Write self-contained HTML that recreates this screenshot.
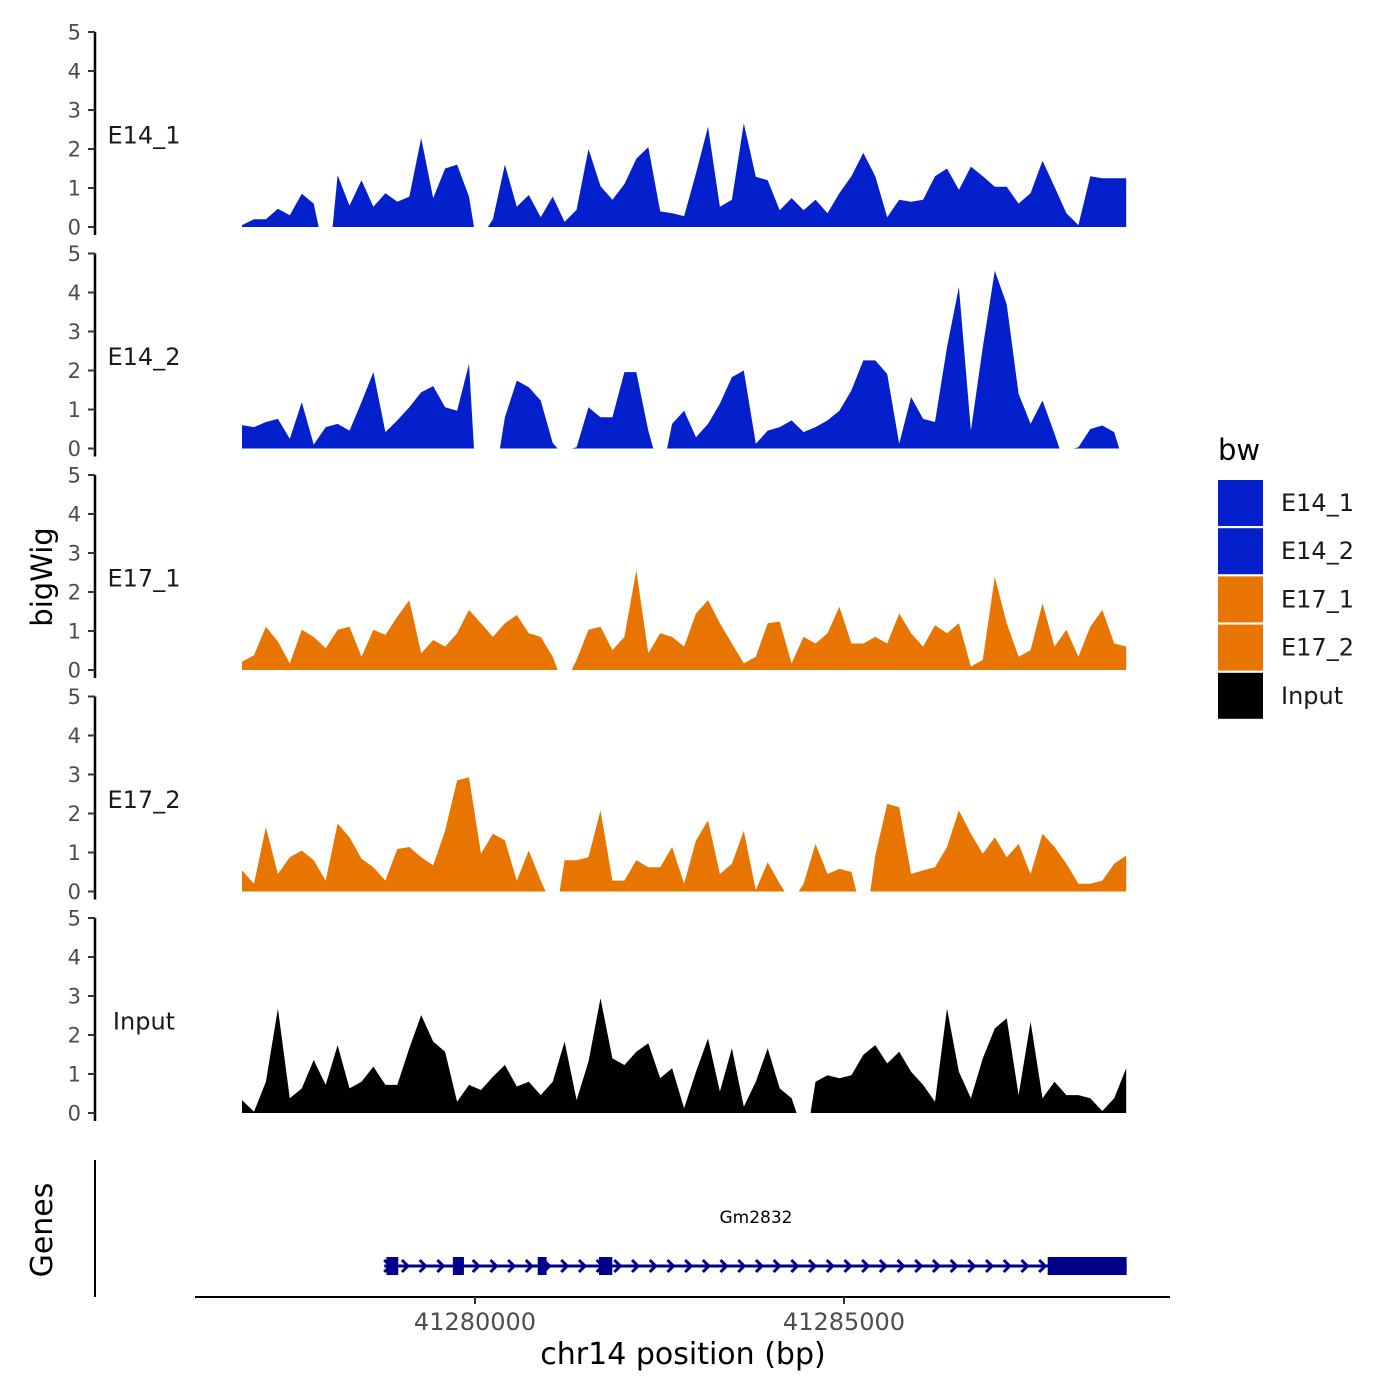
<!DOCTYPE html>
<html><head><meta charset="utf-8"><style>
body{margin:0;background:#fff;}
svg{display:block;font-family:"DejaVu Sans","Liberation Sans",sans-serif;}
</style></head><body>
<svg id="chart" width="1400" height="1400" viewBox="0 0 1400 1400">
<g id="tracks"></g>
<g id="gene-panel">
  <line x1="95" y1="1160" x2="95" y2="1297" stroke="#000" stroke-width="2"/>
  <line x1="195" y1="1297" x2="1170" y2="1297" stroke="#000" stroke-width="2"/>
  <text x="52" y="1230" transform="rotate(-90 52 1230)" font-size="30" text-anchor="middle">Genes</text>
  <g id="gene"></g>
  <text x="756" y="1223" font-size="17" text-anchor="middle">Gm2832</text>
</g>
<g id="xaxis"></g>
<text x="683" y="1364" font-size="30" text-anchor="middle">chr14 position (bp)</text>
<text x="52" y="577" transform="rotate(-90 52 577)" font-size="29" text-anchor="middle">bigWig</text>
<g id="legend"></g>
</svg>
<script>
const binStart = 41276843;
const binSize = 161.9;
const seriesNames = ["E14_1","E14_2","E17_1","E17_2","Input"];
const seriesColors = ["#0420CD","#0420CD","#E87500","#E87500","#000000"];
const yTicks = [0,1,2,3,4,5];
const xTicks = [41280000,41285000];
const e14_1 = [0.05,0.2,0.2,0.47,0.3,0.85,0.6,null,1.33,0.55,1.2,0.52,0.87,0.65,0.78,2.28,0.74,1.5,1.6,0.78,null,0.2,1.6,0.52,0.82,0.25,0.78,0.13,0.44,2.0,1.05,0.7,1.1,1.75,2.05,0.4,0.35,0.28,1.38,2.57,0.52,0.7,2.66,1.29,1.2,0.43,0.74,0.43,0.7,0.35,0.87,1.3,1.9,1.3,0.25,0.7,0.65,0.7,1.3,1.5,0.95,1.55,1.3,1.03,1.03,0.6,0.87,1.7,1.03,0.35,0.05,1.3,1.25,1.25,1.25];
const e14_2 = [0.6,0.55,0.68,0.76,0.25,1.19,0.1,0.55,0.63,0.46,1.19,1.96,0.42,0.72,1.06,1.44,1.6,1.06,0.97,2.17,null,null,0.8,1.74,1.57,1.23,0.14,null,0.03,1.06,0.8,0.8,1.96,1.96,0.46,null,0.63,0.97,0.29,0.63,1.15,1.83,2.0,0.12,0.46,0.55,0.72,0.42,0.55,0.72,0.97,1.49,2.26,2.26,1.91,0.12,1.32,0.76,0.68,2.6,4.14,0.46,2.6,4.56,3.7,1.4,0.63,1.23,0.38,null,0.03,0.5,0.59,0.42,null];
const e17_1 = [0.21,0.38,1.11,0.73,0.17,1.03,0.85,0.56,1.03,1.11,0.34,1.03,0.9,1.37,1.79,0.43,0.77,0.6,0.94,1.54,1.2,0.85,1.2,1.41,0.94,0.85,0.34,null,0.26,1.03,1.11,0.51,0.85,2.56,0.43,0.94,0.85,0.6,1.45,1.79,1.2,0.68,0.17,0.34,1.2,1.24,0.17,0.85,0.68,0.94,1.62,0.68,0.68,0.85,0.68,1.45,0.94,0.6,1.15,0.94,1.2,0.09,0.26,2.39,1.2,0.34,0.51,1.71,0.6,1.03,0.34,1.11,1.54,0.68,0.6];
const e17_2 = [0.54,0.2,1.65,0.45,0.88,1.05,0.8,0.28,1.74,1.39,0.84,0.62,0.28,1.09,1.14,0.88,0.67,1.56,2.85,2.93,0.97,1.48,1.31,0.28,1.05,0.28,null,0.8,0.8,0.88,2.08,0.28,0.28,0.8,0.62,0.62,1.14,0.2,1.31,1.82,0.45,0.71,1.56,0.03,0.75,0.2,null,0.2,1.22,0.45,0.58,0.5,null,0.92,2.25,2.16,0.45,0.54,0.62,1.14,2.08,1.48,0.97,1.39,0.88,1.22,0.45,1.48,1.14,0.71,0.2,0.2,0.28,0.71,0.92];
const input = [0.33,0.03,0.8,2.68,0.38,0.63,1.36,0.72,1.74,0.63,0.8,1.19,0.72,0.72,1.66,2.51,1.83,1.57,0.29,0.72,0.59,0.93,1.23,0.68,0.8,0.46,0.8,1.83,0.33,1.32,2.94,1.4,1.23,1.57,1.79,0.89,1.15,0.12,1.06,1.91,0.55,1.66,0.16,0.8,1.66,0.63,0.38,null,0.8,0.97,0.89,0.97,1.49,1.74,1.27,1.57,1.06,0.72,0.29,2.68,1.06,0.38,1.4,2.17,2.43,0.46,2.34,0.38,0.8,0.46,0.46,0.38,0.05,0.38,1.15];
const seriesValues = [e14_1,e14_2,e17_1,e17_2,input];
const geneStart = 41278770;
const geneEnd = 41288830;
const exonStarts = [41278800,41279700,41280850,41281680,41287760];
const exonEnds = [41278960,41279850,41280970,41281860,41288830];

const NS="http://www.w3.org/2000/svg";
function xScale(bp){return 475+(bp-41280000)*369/5000;}
const panelBase=[227,448.5,670,891.5,1113];
const unit=39;
function mk(tag,attrs,parent){const e=document.createElementNS(NS,tag);for(const k in attrs)e.setAttribute(k,attrs[k]);parent.appendChild(e);return e;}
const tracks=document.getElementById('tracks');
seriesValues.forEach((vals,s)=>{
  const base=panelBase[s];
  const yS=v=>base-v*unit;
  const g=mk('g',{},tracks);
  
  
  const ax=mk('line',{x1:95,x2:95,y1:base-5*unit,y2:base+8,stroke:'#000','stroke-width':2.5},g);
  
  
  yTicks.forEach(t=>{
    const tk=mk('line',{x1:88,x2:95,y1:yS(t),y2:yS(t),stroke:'#333','stroke-width':2},g);
    
    
    const tl=mk('text',{x:81,y:yS(t)+7.5,'font-size':21,'text-anchor':'end',fill:'#4d4d4d'},g);
    tl.textContent=t;
    
    
  });
  const lb=mk('text',{x:144,y:yS(2.35)+8,'font-size':24,'text-anchor':'middle',fill:'#1a1a1a'},g);
  lb.textContent=seriesNames[s];
  
  
  let d='',seg=[];
  const pad=5;
  const flush=(atEnd)=>{if(seg.length){const x0=(+seg[0][0]-(seg[0].first?0:pad)).toFixed(1);const xl=(+seg[seg.length-1][0]+(atEnd?0:pad)).toFixed(1);d+='M'+x0+','+base+seg.map(p=>'L'+p[0]+','+p[1]).join('')+'L'+xl+','+base+'Z';}seg=[];};
  vals.forEach((v,i)=>{if(v===null){flush(false);return;}const p=[xScale(binStart+i*binSize).toFixed(1),yS(v).toFixed(1)];if(i===0)p.first=true;seg.push(p);});
  flush(true);
  const a=mk('path',{d:d,fill:seriesColors[s]},g);
  
  
});
// x axis
const xa=document.getElementById('xaxis');
xTicks.forEach(t=>{
  const tk=mk('line',{x1:xScale(t),x2:xScale(t),y1:1297,y2:1304,stroke:'#333','stroke-width':2},xa);
  
  
  const tl=mk('text',{x:xScale(t),y:1330,'font-size':24,'text-anchor':'middle',fill:'#4d4d4d'},xa);
  tl.textContent=t;
  
  
});
// gene
const gg=document.getElementById('gene');
const gy=1266, gc='#00008B';
const gl=mk('line',{x1:xScale(geneStart),x2:xScale(geneEnd),y1:gy,y2:gy,stroke:gc,'stroke-width':3},gg);


for(let x=xScale(geneStart)+3;x<xScale(geneEnd)-4;x+=17.7){
  const ar=mk('path',{d:`M${x-3},${gy-6}L${x+3},${gy}L${x-3},${gy+6}`,stroke:gc,'stroke-width':3,fill:'none'},gg);
  
  
}
exonStarts.forEach((st,i)=>{
  const x1=xScale(st),x2=xScale(exonEnds[i]);
  const r=mk('rect',{x:x1,y:gy-9,width:x2-x1,height:18,fill:gc},gg);
  
  
});
// legend
const lg=document.getElementById('legend');
const lt=mk('text',{x:1218,y:460,'font-size':29},lg);
lt.textContent='bw';


seriesNames.forEach((n,i)=>{
  const y=480+i*48.2;
  const k=mk('rect',{x:1218,y:y,width:45,height:46,fill:seriesColors[i]},lg);
  
  
  const t=mk('text',{x:1281,y:y+31,'font-size':24,fill:'#1a1a1a'},lg);
  t.textContent=n;
  
  
});
</script>
</body></html>
